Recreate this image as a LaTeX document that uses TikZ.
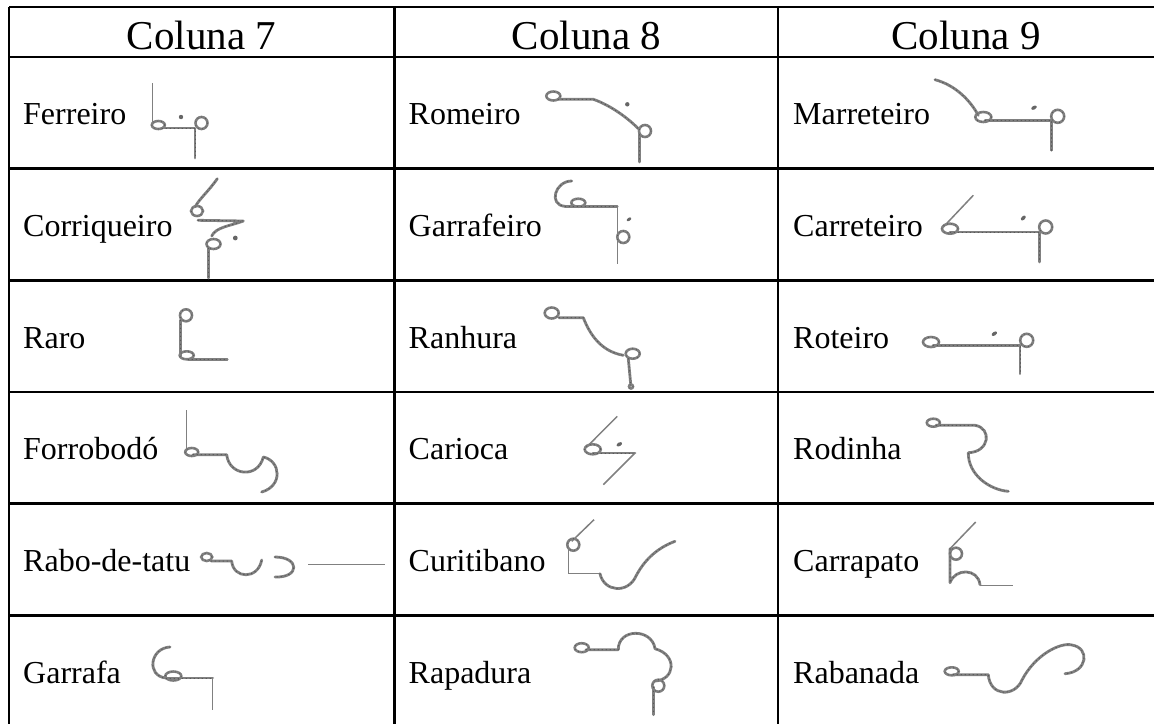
\documentclass[tikz,border=0pt]{standalone}
\usepackage{fontspec}
\setmainfont{Liberation Serif}
\usetikzlibrary{positioning}
\definecolor{tinta}{gray}{0.5}

\begin{document}
\begin{tikzpicture}[x=1pt,y=-1pt,
    grade/.style={draw=black,line width=2.6pt},
    cabec/.style={anchor=base,inner sep=0pt,font=\fontsize{41}{48}\selectfont},
    rotulo/.style={anchor=base west,inner sep=0pt,font=\fontsize{32}{38}\selectfont},
    pinta/.style={postaction={draw=black!65,line width=1pt,dash pattern=on 0.7pt off 3.3pt}},
    traco/.style={draw=tinta,line width=2.8pt,line cap=round,line join=round,pinta},
    fio/.style={draw=tinta,line width=1.5pt},
    laco/.style={draw=tinta,line width=2.6pt,pinta},
    ponto/.style={fill=tinta!80!black}]
    \useasboundingbox (0,0) rectangle (1154,724);
    \clip (0,0) rectangle (1154,724);

    % grade da tabela
    \foreach \y in {7,57,168.7,280.3,392,503.6,615.3}
        \draw[grade] (9,\y) -- (1154,\y);
    \foreach \x in {9,394.5,778}
        \draw[grade] (\x,7) -- (\x,724);

    % cabecalho
    \node[cabec] (col7) at (201.5,49) {Coluna 7};
    \node[cabec] (col8) at (586.5,49) {Coluna 8};
    \node[cabec] (col9) at (966,49) {Coluna 9};

    % rotulos
    \foreach \i/\txt in {1/Ferreiro,2/Corriqueiro,3/Raro,4/Forrobodó,5/Rabo-de-tatu,6/Garrafa}
        \node[rotulo] (c7_\i) at (23,13.3+\i*111.66) {\txt};
    \foreach \i/\txt in {1/Romeiro,2/Garrafeiro,3/Ranhura,4/Carioca,5/Curitibano,6/Rapadura}
        \node[rotulo] (c8_\i) at (408.5,13.3+\i*111.66) {\txt};
    \foreach \i/\txt in {1/Marreteiro,2/Carreteiro,3/Roteiro,4/Rodinha,5/Carrapato,6/Rabanada}
        \node[rotulo] (c9_\i) at (793,13.3+\i*111.66) {\txt};

    % Coluna 7
    % Ferreiro
    \draw[fio] (152.7,83) -- (152.7,124);
    \draw[laco] (158.3,125) ellipse (6.5 and 4);
    \draw[traco] (162,128) -- (195,128) -- (195,158);
    \draw[laco] (201.5,123) circle (6);
    \fill[ponto] (181,117) circle (2.2);
    % Corriqueiro
    \draw[traco] (217.3,178.7) .. controls (208,192) and (200,198) .. (195,207);
    \draw[laco] (197,211) ellipse (6 and 5);
    \draw[traco] (198,220.3) -- (243.3,221) .. controls (230,226) and (216,227) .. (211.7,236);
    \draw[laco] (213.5,244) ellipse (7 and 5);
    \draw[traco] (208.3,248) -- (208.3,278);
    \fill[ponto] (235.3,238) circle (2.4);
    % Raro
    \draw[laco] (186,315.3) circle (6);
    \draw[traco] (180.7,320) -- (180.7,356);
    \draw[laco] (186.7,355.3) ellipse (7 and 4);
    \draw[traco] (188,359.7) -- (227.3,359.7);
    % Forrobodo
    \draw[fio] (186.7,410.3) -- (186.7,452);
    \draw[laco] (191.7,452) ellipse (6.5 and 4);
    \draw[traco] (193,454.7) -- (226.7,454.7) .. controls (229,476) and (258,479) .. (263.3,457)
        .. controls (281,461) and (283,486) .. (261.7,492);
    % Rabo-de-tatu
    \draw[laco] (206.7,557) ellipse (5.5 and 4);
    \draw[traco] (211,561) -- (231.7,561) .. controls (233,579) and (258,580) .. (261.7,560);
    \draw[traco] (275,557) .. controls (300,557) and (300,578) .. (275,577);
    \draw[fio] (308.3,564.7) -- (385,564.7);
    % Garrafa
    \draw[traco] (170,647) .. controls (150,648) and (146,676) .. (166,678);
    \draw[laco] (173.3,676) ellipse (8 and 4.5);
    \draw[traco] (166,678) -- (212.7,678);
    \draw[fio] (212.7,678) -- (212.7,710.3);

    % Coluna 8
    % Romeiro
    \draw[laco] (553.3,96) ellipse (7 and 4.5);
    \draw[traco] (558,99.3) -- (593.3,99.3) .. controls (610,105) and (628,118) .. (638.3,128.7);
    \draw[laco] (645,131) circle (6);
    \draw[traco] (639.3,134.5) -- (639.3,162);
    \fill[ponto] (627.3,104.3) circle (2.2);
    % Garrafeiro
    \draw[traco] (571.7,181) .. controls (555,181) and (548,205) .. (565,206.3);
    \draw[laco] (578.3,202.7) ellipse (7 and 4);
    \draw[traco] (565,206.3) -- (617.3,206.3);
    \draw[fio] (617.3,206.3) -- (617.3,263.7);
    \draw[laco] (623.3,237) circle (6);
    \fill[ponto,rotate around={35:(629,219.3)}] (629,219.3) ellipse (2.6 and 1.5);
    % Ranhura
    \draw[laco] (551.7,313) ellipse (7 and 5.5);
    \draw[traco] (559,317.7) -- (583.3,317.7) .. controls (592,340) and (605,352) .. (623.3,355.3);
    \draw[laco] (632.7,353.7) ellipse (7 and 5);
    \draw[traco] (628.3,358.5) -- (630.7,384);
    \draw[laco] (631,386.5) circle (2);
    % Carioca
    \draw[fio] (617.3,416.3) -- (586.7,447);
    \draw[laco] (592.7,449.3) ellipse (8 and 5);
    \draw[traco] (593,453) -- (635,453);
    \draw[fio] (635,453) -- (603.3,484.7);
    \fill[ponto,rotate around={30:(619.3,444.3)}] (619.3,444.3) ellipse (3 and 1.8);
    % Curitibano
    \draw[fio] (594,519.7) -- (571.7,541.3);
    \draw[laco] (573.3,544.7) circle (6);
    \draw[fio] (568.3,547) -- (568.3,573.7) -- (600,573.7);
    \draw[traco] (600,573.7) .. controls (604,592) and (628,594) .. (636,576)
        .. controls (646,557) and (660,547) .. (675,541.3);
    % Rapadura
    \draw[laco] (581.7,647.7) ellipse (7 and 4.5);
    \draw[traco] (586,649.7) -- (618.3,649.7) .. controls (618,628) and (652,628) .. (655,648.7)
        .. controls (678,655) and (675,680) .. (655,681);
    \draw[laco] (658.3,685.7) circle (6);
    \draw[traco] (653.3,687) -- (653.3,714.7);

    % Coluna 9
    % Marreteiro
    \draw[traco] (935,79.7) .. controls (955,85) and (970,100) .. (978.3,115.3);
    \draw[laco] (983.3,117) ellipse (8 and 5);
    \draw[traco] (985,120.3) -- (1051.7,120.3) -- (1051.7,150.3);
    \draw[laco] (1057.7,116.3) circle (6.5);
    \fill[ponto,rotate around={30:(1034,107.7)}] (1034,107.7) ellipse (3 and 1.8);
    % Carreteiro
    \draw[fio] (973.3,195.3) -- (943.3,227);
    \draw[laco] (950,228.7) ellipse (8 and 5);
    \draw[traco] (950,232) -- (1039.3,232) -- (1039.3,262);
    \draw[laco] (1045.7,227) circle (6.5);
    \fill[ponto,rotate around={45:(1023.3,218)}] (1023.3,218) ellipse (3 and 1.8);
    % Roteiro
    \draw[laco] (931,342) ellipse (8 and 5);
    \draw[traco] (933,345.7) -- (1020,345.7) -- (1020,373.7);
    \draw[laco] (1026.7,340.3) circle (6.5);
    \fill[ponto,rotate around={35:(994.3,333.7)}] (994.3,333.7) ellipse (3 and 1.8);
    % Rodinha
    \draw[laco] (933.3,422.7) ellipse (6.5 and 4);
    \draw[traco] (936,425.3) -- (975,425.3) .. controls (992,428) and (990,452) .. (968.3,452.7)
        .. controls (968,475) and (990,490) .. (1008.3,491.3);
    % Carrapato
    \draw[fio] (975.7,522) -- (950,548.7);
    \draw[laco] (956,553.7) circle (6);
    \draw[traco] (950,548.7) -- (950,582.7) .. controls (955,568) and (978,568) .. (980,584.7);
    \draw[fio] (980,585.3) -- (1012.7,585.3);
    % Rabanada
    \draw[laco] (951.7,671.3) ellipse (7 and 4);
    \draw[traco] (953,674.7) -- (988.3,674.7) .. controls (990,697) and (1015,697) .. (1022,680)
        .. controls (1035,655) and (1060,642) .. (1072,645)
        .. controls (1090,648) and (1088,672) .. (1065,673.7);
\end{tikzpicture}
\end{document}
